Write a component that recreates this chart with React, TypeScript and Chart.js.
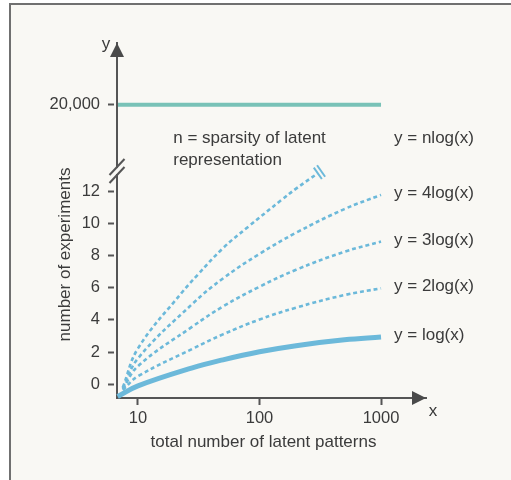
import React, { useEffect, useRef } from "react";
import { Chart, registerables } from "chart.js";

Chart.register(...registerables);

// ---------- data ----------
const X_TICKS = [10, 100, 1000];
const Y_TICKS = [0, 2, 4, 6, 8, 10, 12];
const UPPER_VALUE = 20000; // value shown above the axis break

const LOG1_X = [6.8, 10, 28, 50, 100, 200, 500, 1000];
const LOG1_Y = [-0.76, -0.1, 1.02, 1.52, 2.02, 2.4, 2.76, 2.93];

const DASH_X = [7.5, 10, 28, 50, 100, 200, 500, 1000];
const LOG2_Y = [-0.35, 0.5, 2.2, 3.1, 4.02, 4.76, 5.54, 5.96];
const LOG3_Y = [-0.3, 1.13, 3.58, 4.83, 6.06, 7.11, 8.23, 8.86];
const LOG4_Y = [-0.25, 1.61, 4.99, 6.57, 8.1, 9.41, 10.88, 11.76];

const NLOG_X = [7.5, 10, 23, 31, 50, 81, 152, 200, 302];
const NLOG_Y = [-0.2, 2.23, 5.7, 6.8, 8.45, 9.79, 11.45, 12.15, 13.1];

const TEAL_X = [6.85, 1000];
const TEAL_Y = [UPPER_VALUE, UPPER_VALUE];

const CURVE_LABELS = ["y = log(x)", "y = 2log(x)", "y = 3log(x)", "y = 4log(x)"];
const NLOG_LABEL = "y = nlog(x)";
const NOTE_LINES = ["n = sparsity of latent", "representation"];
const NOTE_X = 19.5;
const NOTE_Y = [15.3, 13.9];
const NLOG_LABEL_Y = 15.3;

const X_TITLE = "total number of latent patterns";
const Y_TITLE = "number of experiments";

// ---------- scale set-up ----------
const X_MIN = 6.72;
const X_MAX = 2345;
const Y_MIN = -0.85;
const Y_MAX = 21.19;
const Y_BREAK = 13.24; // where the axis is broken (display units)
const UPPER_DISPLAY = 17.36; // display position of the value above the break
const mapY = (v: number) => (v > 1000 ? UPPER_DISPLAY : v);

// ---------- styles ----------
const FONT = "'Liberation Sans', Arial, Helvetica, sans-serif";
const TEXT = "#3b3b3b";
const AXIS = "#555555";
const ARROW = "#4a4a4a";
const BLUE = "#6cb9da";
const TEAL = "#79c2b7";
const BG = "#f9f8f4";

const pts = (xs: number[], ys: number[]) => xs.map((x, i) => ({ x, y: mapY(ys[i]) }));

const dashed = (xs: number[], ys: number[]) => ({
  data: pts(xs, ys),
  borderColor: BLUE,
  borderWidth: 2.6,
  borderDash: [4, 3],
  borderCapStyle: "butt",
  pointRadius: 0,
  tension: 0.4,
  clip: false,
  fill: false,
});

const decoPlugin = {
  id: "deco",
  afterDraw(chart: any) {
    const { ctx, chartArea: a, scales } = chart;
    const xs = scales.x;
    const ys = scales.y;
    ctx.save();

    // y-axis break
    const by = ys.getPixelForValue(Y_BREAK);
    const ax = a.left;
    ctx.fillStyle = BG;
    ctx.fillRect(ax - 2, by - 3, 4, 6);
    ctx.strokeStyle = AXIS;
    ctx.lineWidth = 2;
    for (const d of [-4, 4]) {
      ctx.beginPath();
      ctx.moveTo(ax - 7.5, by + d + 8);
      ctx.lineTo(ax + 7.5, by + d - 8);
      ctx.stroke();
    }

    // arrow heads
    ctx.fillStyle = ARROW;
    ctx.beginPath();
    ctx.moveTo(ax, a.top);
    ctx.lineTo(ax - 7, a.top + 14);
    ctx.lineTo(ax + 7, a.top + 14);
    ctx.closePath();
    ctx.fill();
    ctx.beginPath();
    ctx.moveTo(a.right, a.bottom);
    ctx.lineTo(a.right - 14, a.bottom - 7);
    ctx.lineTo(a.right - 14, a.bottom + 7);
    ctx.closePath();
    ctx.fill();

    // axis letters and titles
    ctx.fillStyle = TEXT;
    ctx.font = `17px ${FONT}`;
    ctx.textAlign = "center";
    ctx.textBaseline = "middle";
    ctx.fillText("y", ax - 11, a.top + 1);
    ctx.fillText("x", a.right + 7, a.bottom + 13);
    ctx.fillText(X_TITLE, a.left + 146.5, a.bottom + 44.5);
    ctx.save();
    ctx.translate(a.left - 52, (a.top + a.bottom) / 2 + 34);
    ctx.rotate(-Math.PI / 2);
    ctx.fillText(Y_TITLE, 0, 0);
    ctx.restore();

    // curve labels
    ctx.textAlign = "left";
    const lx = xs.getPixelForValue(1000) + 13;
    const ends = [LOG1_Y, LOG2_Y, LOG3_Y, LOG4_Y];
    ends.forEach((arr, i) => {
      ctx.fillText(CURVE_LABELS[i], lx, ys.getPixelForValue(arr[arr.length - 1]) - 1.5);
    });
    ctx.fillText(NLOG_LABEL, lx, ys.getPixelForValue(NLOG_LABEL_Y));
    NOTE_LINES.forEach((t, i) => {
      ctx.fillText(t, xs.getPixelForValue(NOTE_X), ys.getPixelForValue(NOTE_Y[i]));
    });

    // break marks at the end of the n·log curve
    const meta = chart.getDatasetMeta(5);
    const el = meta.data;
    const p1 = el[el.length - 2];
    const p2 = el[el.length - 1];
    let tx = p2.x - p1.x;
    let ty = p2.y - p1.y;
    const len = Math.hypot(tx, ty);
    tx /= len;
    ty /= len;
    const nx = -ty;
    const ny = tx;
    ctx.strokeStyle = BLUE;
    ctx.lineWidth = 2;
    for (const s of [0, 4]) {
      const cx = p2.x + tx * s;
      const cy = p2.y + ty * s;
      ctx.beginPath();
      ctx.moveTo(cx - nx * 7, cy - ny * 7);
      ctx.lineTo(cx + nx * 7, cy + ny * 7);
      ctx.stroke();
    }

    ctx.restore();
  },
};

export default function App() {
  const ref = useRef<HTMLCanvasElement | null>(null);

  useEffect(() => {
    if (!ref.current) return;
    Chart.defaults.font.family = FONT;
    const chart = new Chart(ref.current, {
      type: "line",
      data: {
        datasets: [
          {
            data: pts(TEAL_X, TEAL_Y),
            borderColor: TEAL,
            borderWidth: 4,
            pointRadius: 0,
            tension: 0,
            clip: false,
            fill: false,
          },
          {
            data: pts(LOG1_X, LOG1_Y),
            borderColor: BLUE,
            borderWidth: 5,
            pointRadius: 0,
            tension: 0.4,
            clip: false,
            fill: false,
          },
          dashed(DASH_X, LOG2_Y),
          dashed(DASH_X, LOG3_Y),
          dashed(DASH_X, LOG4_Y),
          dashed(NLOG_X, NLOG_Y),
        ] as any,
      },
      options: {
        animation: false,
        responsive: false,
        maintainAspectRatio: false,
        layout: { padding: { left: 0, top: 43, right: 85, bottom: 0 } },
        plugins: {
          legend: { display: false },
          tooltip: { enabled: false },
          title: { display: false },
        },
        events: [],
        scales: {
          x: {
            type: "logarithmic",
            min: X_MIN,
            max: X_MAX,
            afterFit: (s: any) => {
              s.height = 82;
            },
            afterBuildTicks: (s: any) => {
              s.ticks = X_TICKS.map((v) => ({ value: v }));
            },
            ticks: {
              callback: (v: any) => String(v),
              font: { size: 16.5, family: FONT },
              color: TEXT,
              padding: 4,
              autoSkip: false,
              maxRotation: 0,
            },
            grid: {
              drawOnChartArea: false,
              drawTicks: true,
              tickLength: 7,
              tickColor: AXIS,
              tickWidth: 2,
            },
            border: { display: true, color: AXIS, width: 2 },
          },
          y: {
            type: "linear",
            min: Y_MIN,
            max: Y_MAX,
            afterFit: (s: any) => {
              s.width = 117;
            },
            afterBuildTicks: (s: any) => {
              s.ticks = [...Y_TICKS, UPPER_VALUE].map((v) => ({ value: mapY(v) }));
            },
            ticks: {
              callback: (v: any) =>
                v === UPPER_DISPLAY ? UPPER_VALUE.toLocaleString("en-US") : String(v),
              font: { size: 16.5, family: FONT },
              color: TEXT,
              padding: 8,
              autoSkip: false,
            },
            grid: {
              drawOnChartArea: false,
              drawTicks: true,
              tickLength: 9,
              tickColor: AXIS,
              tickWidth: 2,
              tickBorderDash: [6, 20],
            },
            border: { display: true, color: AXIS, width: 2 },
          },
        },
      } as any,
      plugins: [decoPlugin],
    });
    return () => chart.destroy();
  }, []);

  return (
    <div
      style={{
        position: "fixed",
        left: 0,
        top: 0,
        width: 511,
        height: 480,
        background: "#ffffff",
        overflow: "hidden",
      }}
    >
      <div
        style={{
          position: "absolute",
          left: 9,
          top: 3,
          width: 502,
          height: 477,
          boxSizing: "border-box",
          borderLeft: "2px solid #707070",
          borderTop: "2px solid #707070",
          background: BG,
        }}
      />
      <canvas
        ref={ref}
        width={511}
        height={480}
        style={{ position: "absolute", left: 0, top: 0, display: "block" }}
      />
    </div>
  );
}
